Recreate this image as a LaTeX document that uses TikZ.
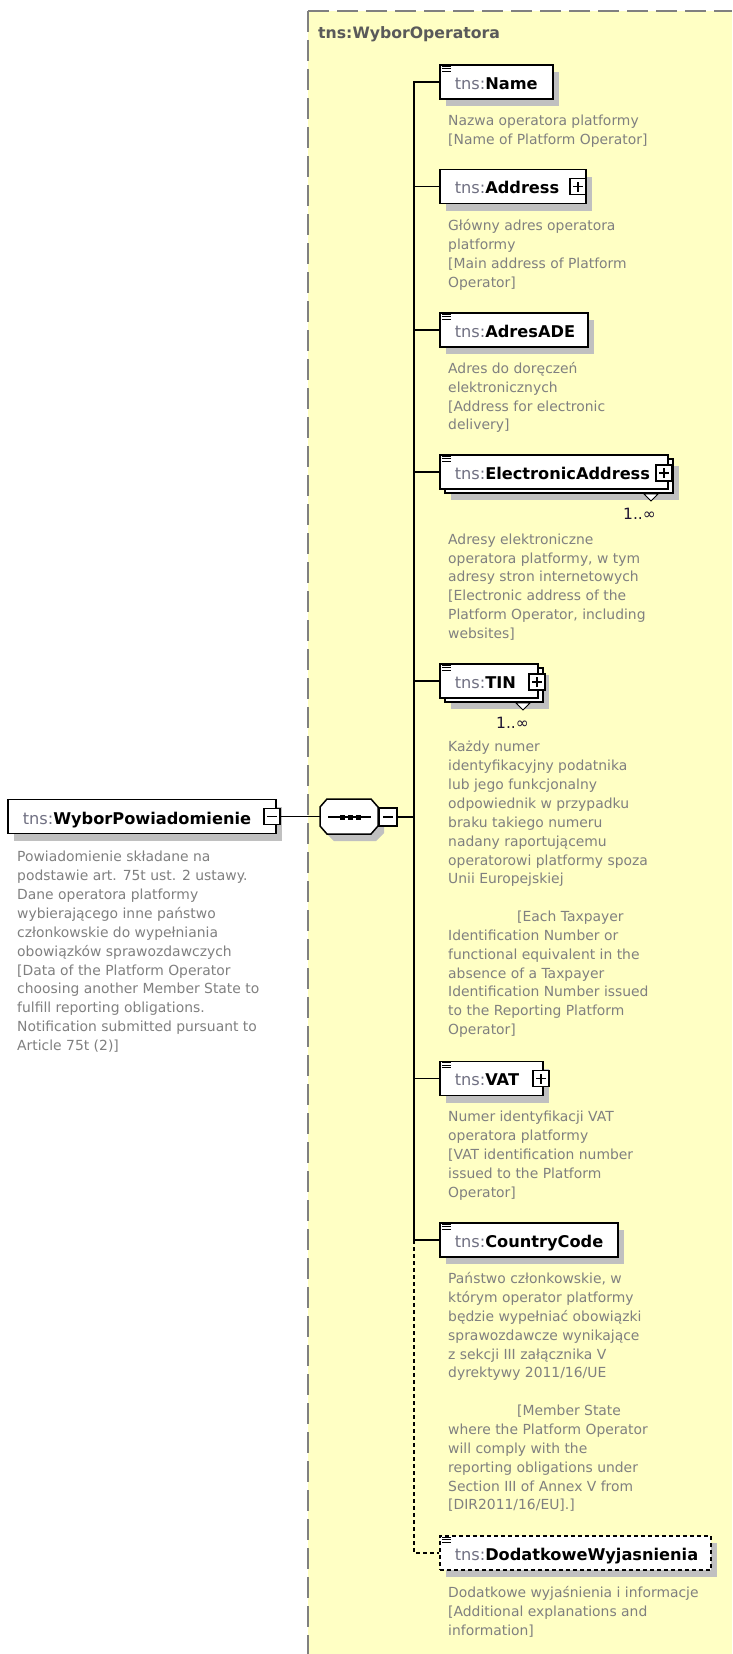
\documentclass[tikz,border=0pt]{standalone}
\usepackage{fontspec}
\setmainfont{DejaVu Sans}
\usetikzlibrary{shadows}
\definecolor{bgyellow}{RGB}{255,255,196}
\definecolor{descgray}{RGB}{128,128,128}
\definecolor{shadowgray}{RGB}{192,192,192}
\definecolor{nsgray}{RGB}{112,112,130}
\definecolor{titlegray}{RGB}{90,90,90}
\definecolor{bordergray}{RGB}{128,128,128}
\definecolor{multcol}{RGB}{30,20,50}
\newcommand\efont{\fontsize{16.2}{19}\selectfont}
\newcommand\dfont{\fontsize{13.9}{18.85}\selectfont}
\newcommand\ename[1]{\mbox{\textcolor{nsgray}{tns:}\textbf{#1}}}
\newcommand\dstrut{\rule{0pt}{11pt}}
\newcommand\simpleicon[1]{\foreach \d in {2,4.5,7} \draw[line width=0.9pt] ([xshift=3pt,yshift=-\d pt]#1.north west) -- ++(9,0);}
\begin{document}
\begin{tikzpicture}[x=1pt,y=-1pt,
  elem/.style={draw=black, line width=1.5pt, fill=white, minimum height=34pt, inner xsep=15pt, inner ysep=0pt, anchor=west, align=left, text height=14pt, text depth=0pt, font=\efont},
  shad/.style={drop shadow={shadow xshift=6pt, shadow yshift=-7pt, fill=shadowgray, opacity=1}},
  desc/.style={anchor=north west, inner sep=0pt, align=left, text=descgray, font=\dfont},
  mult/.style={anchor=base east, inner sep=0pt, font=\fontsize{15.5}{19}\selectfont, text=multcol},
  conn/.style={line width=1.5pt, draw=black},
  dconn/.style={conn, dash pattern=on 4pt off 3pt},
  icon/.style={shape=rectangle, draw=black, line width=1.1pt, fill=white, minimum size=16pt, inner sep=0pt},
  plusicon/.style={icon, path picture={\draw[line width=1.1pt] ([xshift=-5pt]path picture bounding box.center) -- ([xshift=5pt]path picture bounding box.center) ([yshift=-5pt]path picture bounding box.center) -- ([yshift=5pt]path picture bounding box.center);}},
  minusicon/.style={icon, path picture={\draw[line width=1.1pt] ([xshift=-5pt]path picture bounding box.center) -- ([xshift=5pt]path picture bounding box.center);}},
  tri/.style={draw=black, line width=0.8pt, fill=white}
]
\useasboundingbox (0,0) rectangle (732,1654);
\fill[white] (0,0) rectangle (732,1654);
% group background
\fill[bgyellow] (308,11) rectangle (732,1654);
\draw[bordergray, line width=1.4pt, dash pattern=on 21pt off 8pt] (308,11) -- (308,1654);
\draw[bordergray, line width=1.4pt, dash pattern=on 21pt off 8pt] (308,11) -- (732,11);
\node[anchor=base west, inner sep=0pt, font=\bfseries\fontsize{15.7}{19}\selectfont, text=titlegray] (title) at (318,39) {tns:WyborOperatora};

% root element
\node[elem, shad, text width=238pt, text height=15pt] (root) at (7,816.5) {\ename{WyborPowiadomienie}};
\node[minusicon] (rootminus) at (272,816.5) {};
\node[desc] (rootdesc) at (17,850.7) {\dstrut Powiadomienie składane na\\podstawie art. 75t ust. 2 ustawy.\\Dane operatora platformy\\wybierającego inne państwo\\członkowskie do wypełniania\\obowiązków sprawozdawczych\\{}[Data of the Platform Operator\\choosing another Member State to\\fulfill reporting obligations.\\Notification submitted pursuant to\\Article 75t (2)]};

% sequence compositor
\fill[shadowgray] (326,814)--(334,806)--(376,806)--(384,814)--(384,833)--(376,841)--(334,841)--(326,833)--cycle;
\draw[line width=1.5pt, fill=white] (320,807)--(327,799)--(371,799)--(378,807)--(378,826)--(371,834)--(327,834)--(320,826)--cycle;
\node[minimum width=58pt, minimum height=35pt, inner sep=0pt] (seq) at (349,816.5) {};
\draw[line width=1.1pt] (328,817) -- (371,817);
\foreach \xx in {342,350,358} \fill (\xx-2.5,814.5) rectangle (\xx+2.5,819.5);
\node[minusicon, minimum size=18pt] (seqminus) at (388,817) {};
\coordinate (spine) at (414,817);

% children
\node[elem, shad, text width=83pt] (name) at (439,82) {\ename{Name}};
\simpleicon{name}
\node[desc] (namedesc) at (448,114.5) {\dstrut Nazwa operatora platformy\\{}[Name of Platform Operator]};

\node[elem, shad, text width=116pt] (address) at (439,186.5) {\ename{Address}};
\node[plusicon] (addressplus) at (578,186.5) {};
\node[desc] (addressdesc) at (448,219.5) {\dstrut Główny adres operatora\\platformy\\{}[Main address of Platform\\Operator]};

\node[elem, shad, text width=118pt] (adresade) at (439,330) {\ename{AdresADE}};
\simpleicon{adresade}
\node[desc] (adresadedesc) at (448,362) {\dstrut Adres do doręczeń\\elektronicznych\\{}[Address for electronic\\delivery]};

\node[elem, shad, text width=198pt] (eaback) at (444,476) {};
\node[elem, text width=198pt] (ea) at (439,472) {\ename{ElectronicAddress}};
\simpleicon{ea}
\node[plusicon] (eaplus) at (664,473) {};
\draw[tri] (644,494) -- (658,494) -- (651,501) -- cycle;
\node[mult] (eamult) at (656,519) {1..∞};
\node[desc] (eadesc) at (448,533) {\dstrut Adresy elektroniczne\\operatora platformy, w tym\\adresy stron internetowych\\{}[Electronic address of the\\Platform Operator, including\\websites]};

\node[elem, shad, text width=68pt] (tinback) at (444,685) {};
\node[elem, text width=68pt] (tin) at (439,681) {\ename{TIN}};
\simpleicon{tin}
\node[plusicon] (tinplus) at (537,682) {};
\draw[tri] (516,703) -- (530,703) -- (523,710) -- cycle;
\node[mult] (tinmult) at (529,728) {1..∞};
\node[desc] (tindesc) at (448,740.7) {\dstrut Każdy numer\\identyfikacyjny podatnika\\lub jego funkcjonalny\\odpowiednik w przypadku\\braku takiego numeru\\nadany raportującemu\\operatorowi platformy spoza\\Unii Europejskiej\\\mbox{}\\\hspace*{69pt}[Each Taxpayer\\Identification Number or\\functional equivalent in the\\absence of a Taxpayer\\Identification Number issued\\to the Reporting Platform\\Operator]};

\node[elem, shad, text width=73pt] (vat) at (439,1078.5) {\ename{VAT}};
\simpleicon{vat}
\node[plusicon] (vatplus) at (541,1078.5) {};
\node[desc] (vatdesc) at (448,1110.7) {\dstrut Numer identyfikacji VAT\\operatora platformy\\{}[VAT identification number\\issued to the Platform\\Operator]};

\node[elem, shad, text width=148pt] (country) at (439,1240) {\ename{CountryCode}};
\simpleicon{country}
\node[desc] (countrydesc) at (448,1272.3) {\dstrut Państwo członkowskie, w\\którym operator platformy\\będzie wypełniać obowiązki\\sprawozdawcze wynikające\\z sekcji III załącznika V\\dyrektywy 2011/16/UE\\\mbox{}\\\hspace*{69pt}[Member State\\where the Platform Operator\\will comply with the\\reporting obligations under\\Section III of Annex V from\\{}[DIR2011/16/EU].]};

\node[elem, shad, text width=241pt, dash pattern=on 4pt off 3pt] (dod) at (439,1553) {\ename{DodatkoweWyjasnienia}};
\simpleicon{dod}
\node[desc] (doddesc) at (448,1586.3) {\dstrut Dodatkowe wyjaśnienia i informacje\\{}[Additional explanations and\\information]};

% connectors
\draw[conn] (rootminus.east) -- (seq.west);
\draw[conn] (seqminus.east) -- (spine);
\draw[conn] (name.west) -- (name.west -| spine) -- (country.west -| spine) -- (country.west);
\foreach \n in {address,adresade,ea,tin,vat} \draw[conn] (\n.west) -- (\n.west -| spine);
\draw[dconn] (country.west -| spine) -- (dod.west -| spine) -- (dod.west);
\end{tikzpicture}
\end{document}
